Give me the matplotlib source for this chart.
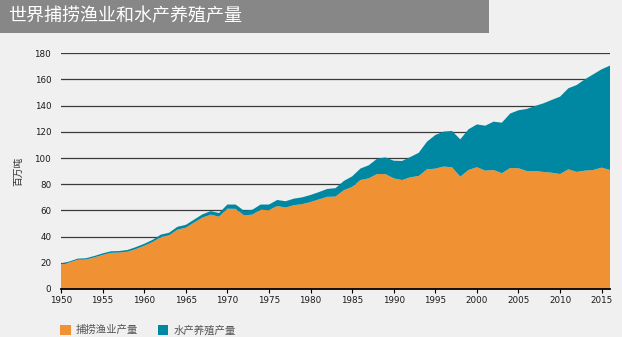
import matplotlib
matplotlib.use("Agg")
import matplotlib.pyplot as plt
from matplotlib.patches import Rectangle

plt.rcParams["font.family"] = ["Noto Sans CJK SC", "DejaVu Sans"]

years = list(range(1950, 2017))

capture = [
    18.8, 20.2, 22.3, 22.5, 24.1, 26.0, 27.6, 27.8, 28.5, 30.5,
    33.0, 35.8, 39.6, 41.0, 45.3, 46.8, 50.7, 54.5, 56.8, 55.2,
    61.3, 61.2, 56.2, 56.8, 60.5, 60.2, 63.4, 62.2, 64.0, 64.8,
    66.4, 68.4, 70.4, 70.6, 75.4, 78.0, 83.2, 84.5, 87.8, 87.8,
    84.5, 83.2, 85.3, 86.3, 91.4, 91.9, 93.5, 93.0, 85.8, 90.9,
    93.0, 90.4, 90.9, 88.4, 92.4, 92.2, 90.1, 90.1, 89.4, 88.8,
    87.8, 91.4, 89.4, 90.4, 90.9, 92.7, 90.9,
]

aquaculture = [
    0.7, 0.8, 0.9, 1.0, 1.1, 1.2, 1.2, 1.2, 1.3, 1.5,
    1.5, 1.7, 1.9, 2.0, 2.2, 2.2, 2.3, 2.5, 2.7, 2.8,
    3.2, 3.3, 3.6, 3.7, 4.0, 4.3, 4.6, 4.8, 5.0, 5.2,
    5.4, 5.6, 6.0, 6.4, 7.1, 8.0, 8.8, 10.0, 11.7, 12.7,
    13.5, 14.6, 15.5, 17.7, 21.1, 25.7, 26.7, 27.7, 28.5, 31.1,
    32.7, 34.3, 36.9, 38.6, 41.6, 44.3, 47.4, 49.7, 52.4, 55.6,
    59.1, 61.9, 66.4, 69.8, 73.1, 75.1, 79.7,
]

series_names = ["捕捞渔业产量", "水产养殖产量"]
title = "世界捕捞渔业和水产养殖产量"
y_label = "百万吨"
x_ticks = list(range(1950, 2016, 5))
y_ticks = list(range(0, 181, 20))

ORANGE = "#F09234"
TEAL = "#0088A3"
BG = "#F0F0F0"
num_font = ["Liberation Sans Narrow", "DejaVu Sans"]

fig = plt.figure(figsize=(6.22, 3.37), dpi=100, facecolor=BG)

# title bar
fig.patches.append(Rectangle((0, 1 - 33 / 337), 489 / 622, 33 / 337,
                             transform=fig.transFigure, facecolor="#878787",
                             edgecolor="none", zorder=0))
fig.text(8 / 622, 1 - 16.5 / 337, title, color="white", fontsize=13,
         va="center", ha="left")

ax = fig.add_axes([61 / 622, 1 - 289 / 337, 549 / 622, 235.7 / 337])
ax.set_facecolor(BG)

ax.stackplot(years, capture, aquaculture, colors=[ORANGE, TEAL],
             labels=series_names, linewidth=0, zorder=2)

ax.set_xlim(1950, 2016)
ax.set_ylim(0, 180)
ax.set_yticks(y_ticks)
ax.set_xticks(x_ticks)
ax.grid(axis="y", color="#3a3a3a", linewidth=0.9, zorder=1)
ax.set_axisbelow(True)

for side in ["top", "right", "left"]:
    ax.spines[side].set_visible(False)
ax.spines["bottom"].set_color("black")
ax.spines["bottom"].set_linewidth(1.3)
ax.spines["bottom"].set_zorder(3)

ax.tick_params(axis="y", length=0, pad=7)
ax.tick_params(axis="x", length=3, width=0.8, color="black", pad=2)
for lab in ax.get_xticklabels() + ax.get_yticklabels():
    lab.set_family(num_font)
    lab.set_fontsize(6.3)
    lab.set_color("#1a1a1a")

ax.set_ylabel(y_label, fontsize=7, color="#333333", labelpad=8)

handles, labels = ax.get_legend_handles_labels()
fig.legend(handles, labels, loc="center left", bbox_to_anchor=(51 / 622, 0.02),
           ncol=2, frameon=False, fontsize=7.5, handlelength=1.0,
           handleheight=1.0, handletextpad=0.5, columnspacing=1.9,
           labelcolor="#555555")

fig.savefig("out.png", dpi=100, facecolor=BG)
